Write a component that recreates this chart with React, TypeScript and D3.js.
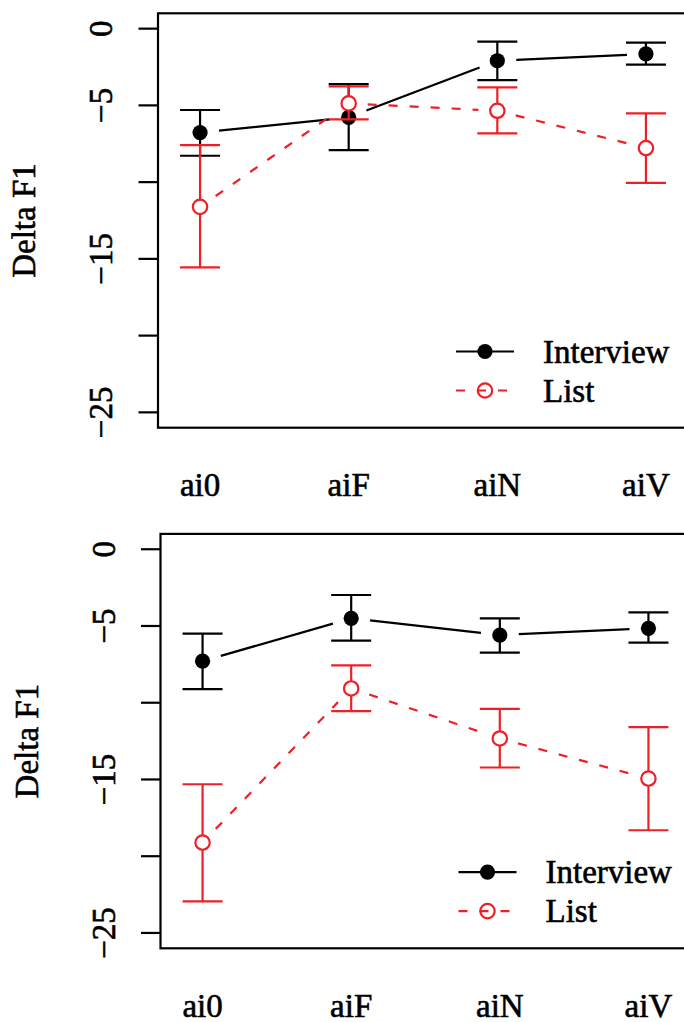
import React from "react"
import * as d3 from "d3"

// categories and tick labels
const categories = ["ai0", "aiF", "aiN", "aiV"]
const yTicks = [0, -5, -10, -15, -20, -25]
const yTickLabels = ["0", "\u22125", "", "\u221215", "", "\u221225"]
const seriesNames = ["Interview", "List"]

// upper panel
const p1InterviewMean = [-6.77, -5.78, -2.09, -1.65]
const p1InterviewLow = [-8.28, -7.91, -3.35, -2.35]
const p1InterviewHigh = [-5.3, -3.61, -0.85, -0.91]
const p1ListMean = [-11.61, -4.87, -5.35, -7.78]
const p1ListLow = [-15.56, -5.91, -6.82, -10.05]
const p1ListHigh = [-7.59, -3.76, -3.82, -5.52]

// lower panel
const p2InterviewMean = [-7.29, -4.5, -5.59, -5.15]
const p2InterviewLow = [-9.11, -5.96, -6.74, -6.09]
const p2InterviewHigh = [-5.5, -2.98, -4.5, -4.11]
const p2ListMean = [-19.11, -9.07, -12.33, -14.94]
const p2ListLow = [-22.94, -10.55, -14.22, -18.31]
const p2ListHigh = [-15.31, -7.57, -10.4, -11.59]

const RED = "#ee2027"
const css = `.t { font-family: "Liberation Serif", "Times New Roman", "Tinos", "FreeSerif", serif; font-size: 33px; stroke: black; stroke-width: 0.6px; }`

const x = d3.scaleLinear().domain([0.717, 4.283]).range([158, 688])
const y = d3.scaleLinear().domain([-26, 1]).range([427.7, 13.3])

const GAP = 19
const CAP = 20

function gappedSegments(vals) {
  const segs = []
  for (let i = 0; i < vals.length - 1; i++) {
    const x1 = x(i + 1), y1 = y(vals[i])
    const x2 = x(i + 2), y2 = y(vals[i + 1])
    const len = Math.hypot(x2 - x1, y2 - y1)
    const ux = (x2 - x1) / len, uy = (y2 - y1) / len
    segs.push([x1 + ux * GAP, y1 + uy * GAP, x2 - ux * GAP, y2 - uy * GAP])
  }
  return segs
}

function Series({ mean, low, high, color, dashed, filled }) {
  return (
    <g>
      {mean.map((m, i) => {
        const cx = x(i + 1)
        return (
          <g key={"e" + i} stroke={color} strokeWidth={2.2}>
            <line x1={cx} x2={cx} y1={y(low[i])} y2={y(high[i])} />
            <line x1={cx - CAP} x2={cx + CAP} y1={y(low[i])} y2={y(low[i])} />
            <line x1={cx - CAP} x2={cx + CAP} y1={y(high[i])} y2={y(high[i])} />
          </g>
        )
      })}
      {gappedSegments(mean).map((s, i) => (
        <line key={"s" + i} x1={s[0]} y1={s[1]} x2={s[2]} y2={s[3]}
          stroke={color} strokeWidth={2.2} strokeDasharray={dashed ? "9,12" : null} />
      ))}
      {mean.map((m, i) => (
        <circle key={"p" + i} cx={x(i + 1)} cy={y(m)} r={filled ? 7.6 : 7.2}
          fill={filled ? color : "white"} stroke={color} strokeWidth={filled ? 0 : 2.2} />
      ))}
    </g>
  )
}

function Panel({ dx, dy, interview, list }) {
  return (
    <g transform={`translate(${dx},${dy})`}>
      <rect x={158} y={13.3} width={530} height={414.4} fill="none" stroke="black" strokeWidth={2.2} />
      {yTicks.map((t, i) => (
        <g key={t}>
          <line x1={138.5} x2={158} y1={y(t)} y2={y(t)} stroke="black" strokeWidth={2.2} />
          <text className="t" transform={`translate(112,${y(t)}) rotate(-90)`} textAnchor="middle">{yTickLabels[i]}</text>
        </g>
      ))}
      <text className="t" transform="translate(35,220.5) rotate(-90)" textAnchor="middle">Delta F1</text>
      {categories.map((c, i) => (
        <text key={c} className="t" x={x(i + 1)} y={496} textAnchor="middle">{c}</text>
      ))}
      <Series mean={interview[0]} low={interview[1]} high={interview[2]} color="black" dashed={false} filled={true} />
      <Series mean={list[0]} low={list[1]} high={list[2]} color={RED} dashed={true} filled={false} />
      {/* legend */}
      <line x1={456} x2={514} y1={351.5} y2={351.5} stroke="black" strokeWidth={2.2} />
      <circle cx={485} cy={351.5} r={7.6} fill="black" />
      <text className="t" x={543} y={362.5}>{seriesNames[0]}</text>
      <line x1={456} x2={514} y1={390.5} y2={390.5} stroke={RED} strokeWidth={2.2} strokeDasharray="9,12" />
      <circle cx={485} cy={390.5} r={7.2} fill="none" stroke={RED} strokeWidth={2.2} />
      <text className="t" x={543} y={401.5}>{seriesNames[1]}</text>
    </g>
  )
}

export default function App() {
  return (
    <svg width={684} height={1022} style={{ position: "absolute", left: 0, top: 0, background: "white" }}>
      <style>{css}</style>
      <Panel dx={0} dy={0}
        interview={[p1InterviewMean, p1InterviewLow, p1InterviewHigh]}
        list={[p1ListMean, p1ListLow, p1ListHigh]} />
      <Panel dx={2.5} dy={520.6}
        interview={[p2InterviewMean, p2InterviewLow, p2InterviewHigh]}
        list={[p2ListMean, p2ListLow, p2ListHigh]} />
    </svg>
  )
}
